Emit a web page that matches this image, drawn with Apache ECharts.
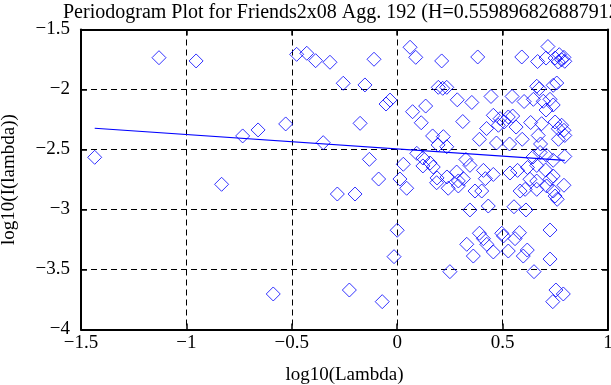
<!DOCTYPE html>
<html><head><meta charset="utf-8">
<script src="https://cdn.jsdelivr.net/npm/echarts@6/dist/echarts.min.js"></script>
<style>html,body{margin:0;padding:0;background:#fff}#c{width:611px;height:385px}</style>
</head><body><div id="c"></div>
<script>
const titleText = 'Periodogram Plot for Friends2x08 Agg. 192 (H=0.559896826887912)';
const xName = 'log10(Lambda)';
const yName = 'log10(I(lambda))';
const xTicks = [-1.5, -1, -0.5, 0, 0.5, 1];
const yTicks = [-4, -3.5, -3, -2.5, -2, -1.5];
const pointX = [-1.435,-1.130,-0.954,-0.833,-0.733,-0.660,-0.588,-0.529,-0.477,-0.429,-0.387,-0.351,-0.319,-0.284,-0.256,-0.227,-0.200,-0.176,-0.153,-0.132,-0.110,-0.088,-0.071,-0.053,-0.034,-0.015,0.000,0.013,0.029,0.045,0.061,0.088,0.073,0.135,0.114,0.211,0.195,0.216,0.235,0.168,0.219,0.235,0.194,0.093,0.122,0.156,0.171,0.122,0.189,0.236,0.187,0.242,0.250,0.382,0.591,0.715,0.666,0.706,0.749,0.769,0.780,0.791,0.764,0.795,0.662,0.674,0.757,0.740,0.285,0.354,0.445,0.545,0.602,0.646,0.725,0.693,0.740,0.706,0.311,0.456,0.488,0.507,0.480,0.527,0.548,0.564,0.424,0.633,0.685,0.749,0.780,0.791,0.764,0.390,0.471,0.533,0.593,0.669,0.680,0.765,0.795,0.326,0.345,0.678,0.644,0.708,0.740,0.795,0.282,0.409,0.456,0.535,0.571,0.618,0.662,0.704,0.740,0.290,0.314,0.418,0.630,0.662,0.725,0.290,0.369,0.401,0.583,0.607,0.662,0.709,0.740,0.791,0.759,0.749,0.345,0.432,0.554,0.611,0.725,0.390,0.409,0.425,0.496,0.504,0.456,0.580,0.559,0.527,0.330,0.361,0.617,0.598,0.725,0.649,0.753,0.788,0.738];
const pointY = [-2.565,-1.735,-1.762,-2.790,-2.387,-2.337,-3.704,-2.287,-1.707,-1.698,-1.760,-2.443,-1.773,-2.871,-1.948,-3.671,-2.871,-2.282,-1.962,-2.582,-1.748,-2.746,-3.768,-2.121,-2.088,-3.393,-3.173,-2.746,-2.623,-2.823,-1.648,-1.732,-2.185,-2.138,-2.277,-1.762,-1.982,-1.990,-1.982,-2.387,-2.393,-2.477,-2.462,-2.532,-2.571,-2.613,-2.646,-2.637,-2.737,-2.729,-2.777,-2.823,-3.518,-1.729,-1.729,-1.642,-1.767,-1.738,-1.738,-1.710,-1.752,-1.732,-1.771,-1.765,-1.973,-1.993,-1.946,-1.965,-2.086,-2.108,-2.058,-2.058,-2.100,-2.082,-2.082,-2.098,-2.129,-2.171,-2.267,-2.215,-2.243,-2.271,-2.298,-2.229,-2.221,-2.313,-2.325,-2.275,-2.285,-2.271,-2.298,-2.340,-2.327,-2.415,-2.446,-2.454,-2.415,-2.383,-2.454,-2.415,-2.383,-2.583,-2.632,-2.525,-2.563,-2.548,-2.590,-2.558,-2.688,-2.674,-2.708,-2.696,-2.674,-2.650,-2.633,-2.671,-2.721,-2.762,-2.743,-2.743,-2.748,-2.763,-2.748,-2.804,-2.846,-2.846,-2.846,-2.832,-2.832,-2.804,-2.846,-2.798,-2.915,-2.888,-3.004,-2.971,-2.977,-3.004,-3.171,-3.198,-3.243,-3.290,-3.198,-3.221,-3.354,-3.193,-3.243,-3.346,-3.290,-3.388,-3.338,-3.388,-3.413,-3.518,-3.671,-3.704,-3.768];
const fitX = [-1.435, 0.795];
const fitY = [-2.323, -2.590];

const FONT = "'Liberation Serif','DejaVu Serif',serif";
const fmt = v => String(v).replace('-', '\u2212');
const points = pointX.map((x, i) => [x, pointY[i]]);
const fit = fitX.map((x, i) => [x, fitY[i]]);
const lineBlack = { color: '#000', width: 2 };
const tick = { inside: true, length: 6, lineStyle: { color: '#000', width: 1.5 } };

const chart = echarts.init(document.getElementById('c'), null, { renderer: 'canvas' });
chart.setOption({
  animation: false,
  backgroundColor: '#fff',
  title: {
    text: titleText, left: 58, top: -2,
    textStyle: { fontFamily: FONT, fontSize: 20, fontWeight: 'normal', color: '#000' }
  },
  grid: { left: 81, right: 3, top: 29.5, bottom: 55.5, containLabel: false, outerBoundsMode: 'none' },
  xAxis: [{
    type: 'value', min: xTicks[0], max: xTicks[xTicks.length - 1], interval: 0.5,
    name: xName, nameLocation: 'middle', nameGap: 36,
    nameTextStyle: { fontFamily: FONT, fontSize: 19, color: '#000' },
    axisLine: { onZero: false, lineStyle: lineBlack },
    axisTick: tick,
    axisLabel: { formatter: fmt, fontFamily: FONT, fontSize: 19, color: '#000', margin: 4 },
    splitLine: { show: true, lineStyle: { color: '#000', width: 1, type: [6, 4] } }
  }, {
    type: 'value', position: 'top', min: xTicks[0], max: xTicks[xTicks.length - 1], interval: 0.5,
    axisLine: { onZero: false, lineStyle: lineBlack },
    axisTick: tick,
    axisLabel: { show: false }, splitLine: { show: false }
  }],
  yAxis: [{
    type: 'value', min: yTicks[0], max: yTicks[yTicks.length - 1], interval: 0.5,
    name: yName, nameLocation: 'middle', nameGap: 62, nameRotate: 90,
    nameTextStyle: { fontFamily: FONT, fontSize: 19, color: '#000' },
    axisLine: { onZero: false, lineStyle: lineBlack },
    axisTick: tick,
    axisLabel: { formatter: fmt, fontFamily: FONT, fontSize: 19, color: '#000', margin: 11 },
    splitLine: { show: true, lineStyle: { color: '#000', width: 1, type: [6, 4] } }
  }, {
    type: 'value', position: 'right', min: yTicks[0], max: yTicks[yTicks.length - 1], interval: 0.5,
    axisLine: { onZero: false, lineStyle: lineBlack },
    axisTick: tick,
    axisLabel: { show: false }, splitLine: { show: false }
  }],
  series: [{
    type: 'scatter', data: points, symbol: 'diamond', symbolSize: 14,
    itemStyle: { color: 'rgba(0,0,0,0)', borderColor: '#0000ff', borderWidth: 1 },
    silent: true, z: 3
  }, {
    type: 'line', data: fit, symbol: 'none',
    lineStyle: { color: '#0000ff', width: 1.2 }, silent: true, z: 4
  }]
});
</script>
</body></html>
